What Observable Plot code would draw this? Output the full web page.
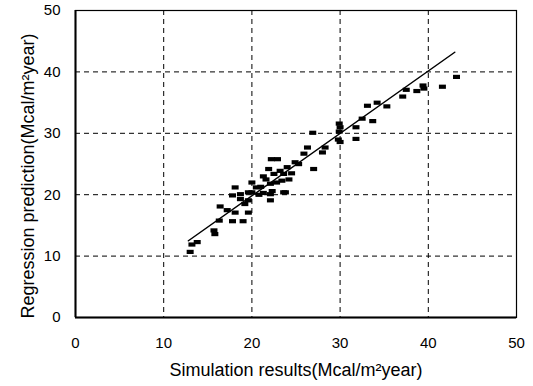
<!DOCTYPE html>
<html>
<head>
<meta charset="utf-8">
<script src="https://cdn.jsdelivr.net/npm/d3@7"></script>
<script src="https://cdn.jsdelivr.net/npm/@observablehq/plot@0.6"></script>
<style>
  html, body { margin: 0; padding: 0; background: #fff; }
  #chart svg { display: block; }
</style>
</head>
<body>
<div id="chart"></div>
<script>
// Simulation results (x) and regression predictions (y)
const simX = [13.0,13.2,13.8,15.7,15.8,16.3,16.4,17.2,17.8,18.1,19.0,19.6,17.8,18.7,18.1,18.7,19.6,19.6,20.0,20.0,
  21.3,22.1,22.3,22.1,23.8,22.1,23.4,22.5,21.9,22.9,22.2,23.2,23.6,24.0,23.6,24.9,25.9,26.3,27.0,26.9,
  28.0,28.3,29.9,30.0,29.9,29.8,30.0,31.8,31.8,32.5,33.7,33.1,34.2,35.3,37.1,37.5,38.7,39.4,39.5,41.6,43.2,
  21.0,21.6,20.8,24.5,25.3,20.5,19.2,24.2,22.8,21.3];
const predY = [10.7,11.9,12.3,14.2,13.6,15.8,18.1,17.5,15.7,17.1,15.7,17.1,19.9,19.3,21.2,20.1,20.4,19.1,22.0,20.4,
  20.3,20.1,20.6,19.1,20.4,21.8,22.3,23.4,24.2,25.8,25.8,23.9,23.4,24.5,20.4,25.3,26.7,27.7,24.2,30.1,
  26.9,27.7,31.6,31.0,30.3,29.0,28.6,31.0,29.1,32.4,32.0,34.5,35.0,34.4,36.0,37.1,36.9,37.8,37.3,37.6,39.2,
  21.3,22.5,20.0,23.5,25.0,21.2,18.5,22.5,22.0,23.0];
// Fitted line end points
const fitX = [12.8, 43.0];
const fitY = [12.5, 43.2];
const ticks = [0, 10, 20, 30, 40, 50];
const gridTicks = [10, 20, 30, 40];
const xLabel = "Simulation results(Mcal/m²year)";
const yLabel = "Regression prediction(Mcal/m²year)";

const points = simX.map((x, i) => ({x, y: predY[i]}));
const fit = fitX.map((x, i) => ({x, y: fitY[i]}));

const bar = { draw(context) { context.rect(-3.5, -2, 7, 4.2); } };

const chart = Plot.plot({
  width: 533,
  height: 386,
  marginLeft: 75,
  marginRight: 17,
  marginTop: 10,
  marginBottom: 69,
  style: { fontFamily: "'Liberation Sans', Arial, sans-serif", fontSize: "15px", color: "#000", background: "#fff" },
  x: { domain: [0, 50] },
  y: { domain: [0, 50] },
  marks: [
    Plot.ruleX(gridTicks, { stroke: "#000", strokeWidth: 1, strokeDasharray: "5,4" }),
    Plot.ruleY(gridTicks, { stroke: "#000", strokeWidth: 1, strokeDasharray: "5,4" }),
    Plot.frame({ stroke: "#000", strokeWidth: 1.2 }),
    Plot.ruleX([0], { stroke: "#000", strokeWidth: 2 }),
    Plot.ruleY([0], { stroke: "#000", strokeWidth: 2 }),
    Plot.axisX(ticks, { tickSize: 0, tickPadding: 20, fontSize: 15, label: null }),
    Plot.axisY(ticks, { tickSize: 0, tickPadding: 15, fontSize: 15, label: null }),
    Plot.text([xLabel], { frameAnchor: "bottom", dy: 58, fontSize: 18, textAnchor: "middle" }),
    Plot.text([yLabel], { frameAnchor: "left", dx: -47, dy: 12, rotate: -90, fontSize: 18, textAnchor: "middle" }),
    Plot.line(fit, { x: "x", y: "y", stroke: "#000", strokeWidth: 1.5 }),
    Plot.dot(points, { x: "x", y: "y", symbol: bar, fill: "#000", stroke: "none" })
  ]
});
document.getElementById("chart").appendChild(chart);
</script>
</body>
</html>
